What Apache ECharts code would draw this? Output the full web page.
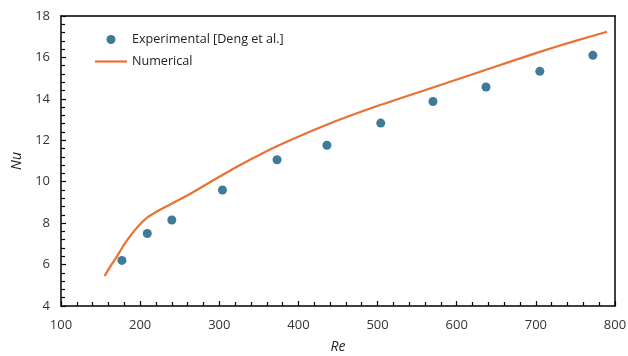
<!DOCTYPE html>
<html>
<head>
<meta charset="utf-8">
<script src="https://cdn.jsdelivr.net/npm/echarts@6/dist/echarts.min.js"></script>
<style>html,body{margin:0;padding:0;background:#fff}#c{width:628px;height:356px}</style>
</head>
<body>
<div id="c"></div>
<script>
const expRe = [177, 209, 240, 304, 373, 436, 504, 570, 637, 705, 772];
const expNu = [6.2, 7.5, 8.15, 9.6, 11.06, 11.76, 12.83, 13.87, 14.57, 15.33, 16.1];
const numRe = [155, 163, 170, 177, 185, 193, 200, 210, 225, 242, 260, 276, 305, 340, 372, 435, 503, 570, 638, 705, 750, 790];
const numNu = [5.45, 5.95, 6.35, 6.8, 7.25, 7.65, 7.95, 8.3, 8.65, 8.98, 9.35, 9.7, 10.35, 11.08, 11.7, 12.74, 13.7, 14.55, 15.42, 16.27, 16.8, 17.24];
const xTicks = [100, 800, 100];
const yTicks = [4, 18, 2];
const legendNames = ['Experimental [Deng et al.]', 'Numerical'];

const font = 'Open Sans';
const tickStyle = { color: '#000', width: 1.2 };
const frameAxis = (pos, rng) => ({
  type: 'value', position: pos, min: rng[0], max: rng[1], interval: rng[2],
  axisLine: { show: true, onZero: false, lineStyle: { color: '#000', width: 1.5 } },
  axisTick: { show: false }, axisLabel: { show: false }, splitLine: { show: false }
});
const chart = echarts.init(document.getElementById('c'));
chart.setOption({
  animation: false,
  textStyle: { fontFamily: font },
  grid: { left: 61, right: 13, top: 16, bottom: 50, outerBoundsMode: 'none', containLabel: false },
  legend: {
    orient: 'vertical', left: 95, top: 33, padding: 0, itemWidth: 32, itemHeight: 9, itemGap: 9,
    textStyle: { fontFamily: font, fontSize: 12.6, color: '#222' },
    data: [
      { name: legendNames[0], icon: 'circle' },
      { name: legendNames[1], icon: 'path://M0,0L32,0L32,2.2L0,2.2Z' }
    ]
  },
  xAxis: [{
    type: 'value', position: 'bottom', min: xTicks[0], max: xTicks[1], interval: xTicks[2],
    name: 'Re', nameLocation: 'middle', nameGap: 34,
    nameTextStyle: { fontStyle: 'italic', fontSize: 14, color: '#222', fontFamily: font },
    axisLine: { show: true, onZero: false, lineStyle: { color: '#000', width: 1.5 } },
    axisTick: { show: true, inside: true, length: 5, lineStyle: tickStyle },
    minorTick: { show: true, splitNumber: 5, length: 4, lineStyle: tickStyle },
    splitLine: { show: false },
    axisLabel: { fontSize: 13, color: '#333', margin: 13 }
  }, frameAxis('top', xTicks)],
  yAxis: [{
    type: 'value', position: 'left', min: yTicks[0], max: yTicks[1], interval: yTicks[2],
    name: 'Nu', nameLocation: 'middle', nameGap: 37,
    nameTextStyle: { fontStyle: 'italic', fontSize: 14, color: '#222', fontFamily: font },
    axisLine: { show: true, onZero: false, lineStyle: { color: '#000', width: 1.5 } },
    axisTick: { show: true, inside: true, length: 5, lineStyle: tickStyle },
    minorTick: { show: true, splitNumber: 5, length: 4, lineStyle: tickStyle },
    splitLine: { show: false },
    axisLabel: { fontSize: 13, color: '#333', margin: 11 }
  }, frameAxis('right', yTicks)],
  series: [
    {
      name: legendNames[0], type: 'scatter', symbol: 'circle', symbolSize: 9,
      itemStyle: { color: '#0E5A7E' },
      data: expRe.map((r, i) => [r, expNu[i]]), z: 3
    },
    {
      name: legendNames[1], type: 'line', symbol: 'none', smooth: 0.2,
      lineStyle: { color: '#E97132', width: 2.2 },
      itemStyle: { color: '#E97132' },
      data: numRe.map((r, i) => [r, numNu[i]]), z: 2
    }
  ]
});
</script>
</body>
</html>
